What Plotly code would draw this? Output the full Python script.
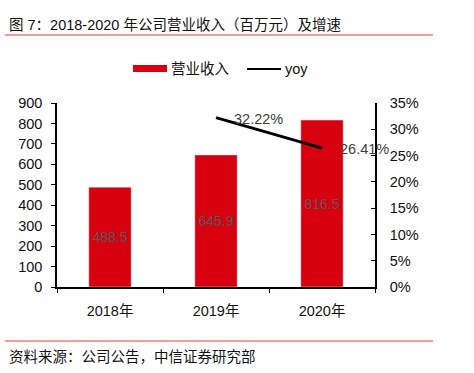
import plotly.graph_objects as go

categories = ["2018年", "2019年", "2020年"]
revenue = [488.5, 645.9, 816.5]
yoy_cats = ["2019年", "2020年"]
yoy = [32.22, 26.41]

title_text = "图 7：2018-2020 年公司营业收入（百万元）及增速"
source_text = "资料来源：公司公告，中信证券研究部"
bar_name = "营业收入"
line_name = "yoy"

RED = "#D7000F"
FONT = "Arial, Liberation Sans, Noto Sans CJK SC, sans-serif"

W, H = 474, 373
L, R, T, B = 57, 99, 103, 86
pw, ph = W - L - R, H - T - B


def px(x):
    return (x - L) / pw


def py(y):
    return (H - B - y) / ph


fig = go.Figure()
fig.add_trace(go.Bar(
    x=categories, y=revenue, name=bar_name, marker_color=RED, width=0.4,
    text=[f"{v:.1f}" for v in revenue], textposition="inside",
    insidetextanchor="middle", textangle=0,
    textfont=dict(color="#595959", size=14, family=FONT),
    showlegend=False,
))
fig.add_trace(go.Scatter(
    x=yoy_cats, y=yoy, name=line_name, yaxis="y2", mode="lines",
    line=dict(color="black", width=3), showlegend=False,
))
for c, v in zip(yoy_cats, yoy):
    fig.add_annotation(x=c, y=v, yref="y2", text=f"{v:.2f}%", showarrow=False,
                       xanchor="left", yanchor="middle", xshift=16, yshift=-1,
                       font=dict(color="#404040", size=14.5, family=FONT))

shapes = [
    dict(type="line", xref="paper", yref="paper", x0=px(5), x1=px(433),
         y0=py(35), y1=py(35), line=dict(color="#E0393E", width=1.2)),
    dict(type="line", xref="paper", yref="paper", x0=px(5), x1=px(433),
         y0=py(341), y1=py(341), line=dict(color="#E0393E", width=1.2)),
    # legend marks
    dict(type="rect", xref="paper", yref="paper", x0=px(133), x1=px(167),
         y0=py(72), y1=py(65), fillcolor=RED, line=dict(width=0)),
    dict(type="line", xref="paper", yref="paper", x0=px(247), x1=px(281),
         y0=py(69), y1=py(69), line=dict(color="black", width=2)),
]

annotations = [
    dict(xref="paper", yref="paper", x=px(7), y=py(25), text=title_text,
         showarrow=False, xanchor="left", yanchor="middle",
         font=dict(size=14.5, color="#111111", family=FONT)),
    dict(xref="paper", yref="paper", x=px(7), y=py(357), text=source_text,
         showarrow=False, xanchor="left", yanchor="middle",
         font=dict(size=14.5, color="#111111", family=FONT)),
    dict(xref="paper", yref="paper", x=px(169), y=py(69), text=bar_name,
         showarrow=False, xanchor="left", yanchor="middle",
         font=dict(size=14.5, color="#111111", family=FONT)),
    dict(xref="paper", yref="paper", x=px(283), y=py(69), text=line_name,
         showarrow=False, xanchor="left", yanchor="middle",
         font=dict(size=14.5, color="#111111", family=FONT)),
]
for a in annotations:
    fig.add_annotation(**a)

fig.update_layout(
    width=W, height=H,
    margin=dict(l=L, r=R, t=T, b=B, pad=0, autoexpand=False),
    plot_bgcolor="white", paper_bgcolor="white",
    shapes=shapes, bargap=0.6,
    font=dict(family=FONT, size=14.5, color="#111111"),
    xaxis=dict(range=[-0.5, len(categories) - 0.5], showline=True,
               linecolor="black", linewidth=1.5,
               ticks="outside", ticklen=4, tickcolor="black",
               tickson="boundaries", showgrid=False, ticklabelstandoff=10,
               automargin=False,
               tickfont=dict(family=FONT, size=14.5, color="#111111")),
    yaxis=dict(range=[0, 900], dtick=100, showline=True, linecolor="black",
               linewidth=1.5, ticks="outside", ticklen=4, tickcolor="black",
               showgrid=False, zeroline=False, ticklabelstandoff=6,
               automargin=False),
    yaxis2=dict(range=[0, 35], dtick=5, ticksuffix="%", overlaying="y",
                side="right", showline=True, linecolor="black", linewidth=1.5,
                ticks="inside", ticklen=4, tickcolor="black", showgrid=False,
                zeroline=False, ticklabelstandoff=10, automargin=False),
)

fig.write_html(
    "out.html",
    config={"displayModeBar": False},
    post_script="document.body.style.margin='0';document.body.style.padding='0';document.body.style.overflow='hidden';",
)
